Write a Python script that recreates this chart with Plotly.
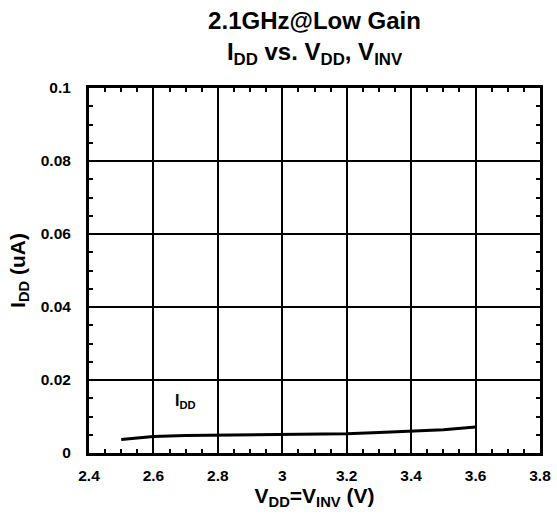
import plotly.graph_objs as go

vdd = [2.5, 2.6, 2.7, 2.8, 2.9, 3.0, 3.1, 3.2, 3.3, 3.4, 3.5, 3.6]
idd = [0.0037, 0.0045, 0.0048, 0.0049, 0.0050, 0.0050, 0.0051, 0.0053, 0.0056, 0.0059, 0.0064, 0.0071]

x_ticks = [2.4, 2.6, 2.8, 3.0, 3.2, 3.4, 3.6, 3.8]
x_labels = ["2.4", "2.6", "2.8", "3", "3.2", "3.4", "3.6", "3.8"]
y_ticks = [0, 0.02, 0.04, 0.06, 0.08, 0.1]
y_labels = ["0", "0.02", "0.04", "0.06", "0.08", "0.1"]

font = "Liberation Sans, Arial, sans-serif"

trace = go.Scatter(x=vdd, y=idd, mode="lines",
                   line=dict(color="black", width=3), showlegend=False)

ax = dict(
    showline=True, linecolor="black", linewidth=3, mirror="allticks",
    showgrid=True, gridcolor="black", gridwidth=2, automargin=False,
    zeroline=False, ticks="inside", ticklen=7, tickwidth=2, tickcolor="black",
    tickfont=dict(family=font, size=15.5, color="black"),
)

def minor(step):
    return dict(dtick=step, ticks="inside", ticklen=4, tickwidth=2,
                tickcolor="black", showgrid=False)

layout = go.Layout(
    width=557, height=520,
    paper_bgcolor="white", plot_bgcolor="white",
    margin=dict(l=89, r=17, t=88, b=67),
    title=dict(
        text="<b>2.1GHz@Low Gain</b><br><b>I<sub>DD</sub> vs. V<sub>DD</sub>, V<sub>INV</sub></b>",
        x=0.5, xref="paper", xanchor="center", y=0.9445, yref="container", yanchor="middle",
        automargin=False,
        font=dict(family=font, size=24, color="black"),
    ),
    xaxis=dict(ax, range=[2.4, 3.8], tickvals=x_ticks,
               ticktext=["<b>%s</b>" % t for t in x_labels],
               ticklabelstandoff=6, minor=minor(0.05),
               title=dict(text="<b>V<sub>DD</sub>=V<sub>INV</sub> (V)</b>", standoff=1,
                          font=dict(family=font, size=21, color="black"))),
    yaxis=dict(ax, range=[0, 0.1], tickvals=y_ticks,
               ticktext=["<b>%s</b>" % t for t in y_labels],
               ticklabelstandoff=12, minor=minor(0.005),
               title=dict(text="<b>I<sub>DD</sub> (uA)</b>", standoff=10,
                          font=dict(family=font, size=21, color="black"))),
    annotations=[dict(x=2.70, y=0.0142, xref="x", yref="y", showarrow=False,
                      text="<b>I<sub>DD</sub></b>", font=dict(family=font, size=16, color="black"))],
)

fig = go.Figure(data=[trace], layout=layout)
# drop the default page margin so the figure fills the window exactly,
# and hide the modebar so it does not cover the title
fig.write_html("out.html", config={"displayModeBar": False},
               post_script="document.body.style.margin='0';document.body.style.overflow='hidden';")
